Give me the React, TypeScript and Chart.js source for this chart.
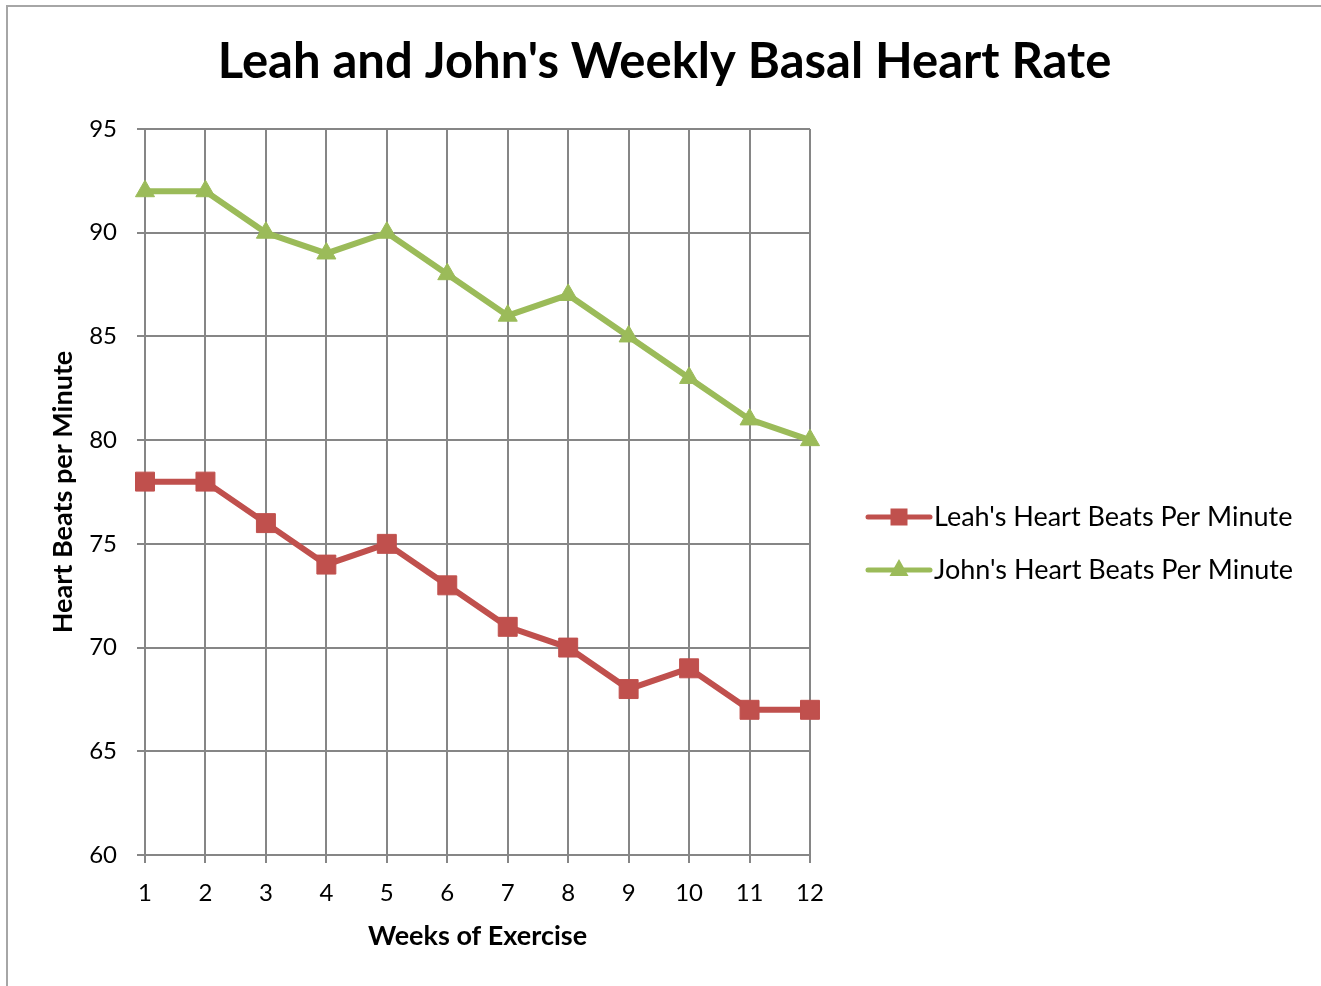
import React, { useEffect, useRef } from "react";
import { Chart, registerables } from "chart.js";

Chart.register(...registerables);

const TITLE = "Leah and John's Weekly Basal Heart Rate";
const X_TITLE = "Weeks of Exercise";
const Y_TITLE = "Heart Beats per Minute";
const weeks = ["1", "2", "3", "4", "5", "6", "7", "8", "9", "10", "11", "12"];
const leahLabel = "Leah's Heart Beats Per Minute";
const johnLabel = "John's Heart Beats Per Minute";
const leahBpm = [78, 78, 76, 74, 75, 73, 71, 70, 68, 69, 67, 67];
const johnBpm = [92, 92, 90, 89, 90, 88, 86, 87, 85, 83, 81, 80];
const Y_MIN = 60;
const Y_MAX = 95;
const Y_STEP = 5;

const RED = "#C0504D";
const GREEN = "#9BBB59";
const GRID = "#868686";
const FONT = "Lato, 'DejaVu Sans', sans-serif";

const legendPlugin = {
  id: "customLegend",
  afterDraw(chart: any) {
    const ctx = chart.ctx;
    const area = chart.chartArea;
    const x0 = area.right + 58;
    const x1 = x0 + 62;
    const rows = [
      { y: 510, ds: chart.data.datasets[0] },
      { y: 563, ds: chart.data.datasets[1] },
    ];
    ctx.save();
    rows.forEach((r) => {
      const ds = r.ds;
      ctx.strokeStyle = ds.borderColor;
      ctx.lineWidth = 5;
      ctx.lineCap = "round";
      ctx.beginPath();
      ctx.moveTo(x0, r.y);
      ctx.lineTo(x1, r.y);
      ctx.stroke();
      ctx.fillStyle = ds.borderColor;
      const cx = (x0 + x1) / 2;
      if (ds.pointStyle === "rect") {
        ctx.fillRect(cx - 8.5, r.y - 8.5, 17, 17);
      } else {
        ctx.beginPath();
        ctx.moveTo(cx, r.y - 11);
        ctx.lineTo(cx + 9.5, r.y + 6);
        ctx.lineTo(cx - 9.5, r.y + 6);
        ctx.closePath();
        ctx.fill();
      }
      ctx.fillStyle = "#000";
      ctx.font = `27px ${FONT}`;
      ctx.textAlign = "left";
      ctx.textBaseline = "middle";
      ctx.fillText(ds.label, x1 + 4, r.y);
    });
    ctx.restore();
  },
};

export default function App() {
  const ref = useRef<HTMLCanvasElement>(null);
  useEffect(() => {
    if (!ref.current) return;
    const chart = new Chart(ref.current, {
      type: "line",
      data: {
        labels: weeks,
        datasets: [
          {
            label: leahLabel,
            data: leahBpm,
            borderColor: RED,
            backgroundColor: RED,
            borderWidth: 6,
            pointStyle: "rect",
            pointRadius: 13.4,
            pointBorderWidth: 1,
            pointBackgroundColor: RED,
            pointBorderColor: RED,
            tension: 0,
          },
          {
            label: johnLabel,
            data: johnBpm,
            borderColor: GREEN,
            backgroundColor: GREEN,
            borderWidth: 6,
            pointStyle: "triangle",
            pointRadius: 11,
            pointBorderWidth: 1,
            pointBackgroundColor: GREEN,
            pointBorderColor: GREEN,
            tension: 0,
          },
        ],
      },
      options: {
        animation: false,
        responsive: false,
        maintainAspectRatio: false,
        layout: { padding: 0 },
        plugins: {
          legend: { display: false },
          tooltip: { enabled: false },
          title: {
            display: true,
            text: TITLE,
            color: "#000",
            font: { family: FONT, size: 49, weight: "bold" },
            padding: { top: 26.1, bottom: 37.1 },
          },
        },
        scales: {
          x: {
            offset: false,
            afterFit(scale: any) {
              scale.height = 131;
            },
            grid: {
              color: GRID,
              lineWidth: 2,
              tickLength: 8,
              drawTicks: true,
            },
            border: { color: GRID, width: 2 },
            ticks: {
              color: "#000",
              font: { family: FONT, size: 24 },
              padding: 16,
              maxRotation: 0,
            },
            title: {
              display: true,
              text: X_TITLE,
              color: "#000",
              font: { family: FONT, size: 27, weight: "bold" },
              padding: { bottom: 33.8, top: 0 },
            },
          },
          y: {
            min: Y_MIN,
            max: Y_MAX,
            afterFit(scale: any) {
              scale.width = 137;
            },
            grid: {
              color: GRID,
              lineWidth: 2,
              tickLength: 8,
            },
            border: { color: GRID, width: 2 },
            ticks: {
              stepSize: Y_STEP,
              color: "#000",
              font: { family: FONT, size: 24 },
              padding: 20,
            },
            title: {
              display: true,
              text: Y_TITLE,
              color: "#000",
              font: { family: FONT, size: 27, weight: "bold" },
              padding: { top: 38.8, bottom: 0 },
            },
          },
          legendSpace: {
            type: "linear",
            position: "right",
            display: true,
            afterFit(scale: any) {
              scale.width = 511;
            },
            grid: { display: false, drawOnChartArea: false },
            border: { display: false },
            ticks: { display: false },
          },
        },
      },
      plugins: [legendPlugin],
    });
    return () => chart.destroy();
  }, []);

  return (
    <div
      style={{
        position: "absolute",
        left: 6,
        top: 5,
        width: 1315,
        height: 981,
        borderLeft: "2px solid #a6a6a6",
        borderTop: "2px solid #a6a6a6",
        background: "#fff",
      }}
    >
      <canvas
        ref={ref}
        width={1313}
        height={979}
        style={{ position: "absolute", left: 0, top: 0, width: 1313, height: 979 }}
      />
    </div>
  );
}
